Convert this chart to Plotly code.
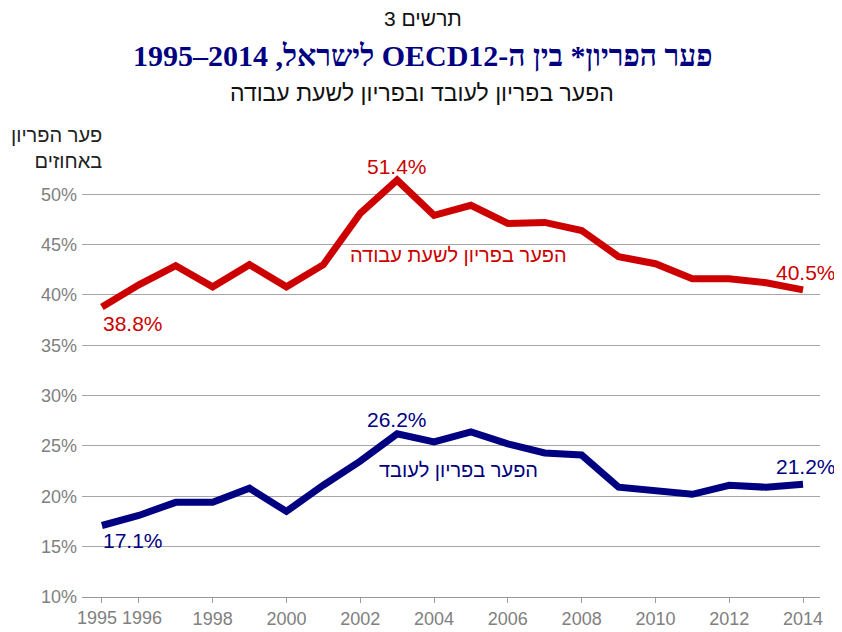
import plotly.graph_objects as go

years = list(range(1995, 2015))
per_hour = [38.8, 41.0, 42.9, 40.8, 43.0, 40.8, 43.0, 48.1, 51.4, 47.9,
            48.9, 47.1, 47.2, 46.4, 43.8, 43.1, 41.6, 41.6, 41.2, 40.5]
per_worker = [17.1, 18.1, 19.4, 19.4, 20.8, 18.5, 21.1, 23.5, 26.2, 25.4,
              26.4, 25.2, 24.3, 24.1, 20.9, 20.5, 20.2, 21.1, 20.9, 21.2]
tick_years = [1995, 1996, 1998, 2000, 2002, 2004, 2006, 2008, 2010, 2012, 2014]
tick_labels = [str(y) for y in tick_years]
y_ticks = [10, 15, 20, 25, 30, 35, 40, 45, 50]
y_tick_labels = [f"{v}%" for v in y_ticks]

RED = "#CC0000"
BLUE = "#000080"
GRAY_TXT = "#808080"
RLE, LRE, PDF = "\u202b", "\u202a", "\u202c"

def rtl(s):
    return RLE + s + PDF

# the two crowded first labels are drawn as annotations, nudged apart as in the original
shown_ticks = [""] * 2 + tick_labels[2:]

fig = go.Figure()
fig.add_trace(go.Scatter(x=years, y=per_hour, mode="lines",
                         line=dict(color=RED, width=7), hoverinfo="skip"))
fig.add_trace(go.Scatter(x=years, y=per_worker, mode="lines",
                         line=dict(color=BLUE, width=7), hoverinfo="skip"))

# page has an 8px body margin; figure is 834x624 so it fits the 842x632 window
OFF = 8
FW, FH = 834, 624
# plot area on screen: x 82..820 px, y 164..597 px
L, R, T, B = 82 - OFF, FW - (820 - OFF), 164 - OFF, FH - (597 - OFF)
H = FH - T - B
W = FW - L - R
def py(pix):
    return (FH - B - (pix - OFF)) / H
def px(pix):
    return ((pix - OFF) - L) / W

SANS = "Liberation Sans, Arial"
SERIF = "Liberation Serif, Times New Roman"

anns = []
def val_label(x, y, text, color, xanchor, yanchor, xshift=0, yshift=0):
    anns.append(dict(x=x, y=y, xref="x", yref="y", text=text, showarrow=False,
                     xanchor=xanchor, yanchor=yanchor, xshift=xshift, yshift=yshift,
                     font=dict(family=SANS, size=21, color=color)))

val_label(years[0], per_hour[0], f"{per_hour[0]:.1f}%", RED, "left", "top", -1, -3)
val_label(years[8], per_hour[8], f"{per_hour[8]:.1f}%", RED, "center", "bottom", 0, 0)
val_label(years[-1], per_hour[-1], f"{per_hour[-1]:.1f}%", RED, "center", "bottom", 3, 4)
val_label(years[0], per_worker[0], f"{per_worker[0]:.1f}%", BLUE, "left", "top", -1, -1)
val_label(years[8], per_worker[8], f"{per_worker[8]:.1f}%", BLUE, "center", "bottom", 0, 1)
val_label(years[-1], per_worker[-1], f"{per_worker[-1]:.1f}%", BLUE, "center", "bottom", 3, 4)

# first two x tick labels
for yr, lab, xs in [(tick_years[0], tick_labels[0], -5), (tick_years[1], tick_labels[1], 3)]:
    anns.append(dict(x=yr, y=py(618), xref="x", yref="paper", text=lab, showarrow=False,
                     xanchor="center", yanchor="middle", xshift=xs,
                     font=dict(family=SANS, size=18, color=GRAY_TXT)))

def paper_text(xpix, ypix, text, size, color, family=SANS, xanchor="center", align="center"):
    anns.append(dict(x=px(xpix), y=py(ypix), xref="paper", yref="paper",
                     xanchor=xanchor, yanchor="middle", align=align,
                     text=text, showarrow=False,
                     font=dict(family=family, size=size, color=color)))

paper_text(458, 255, rtl("הפער בפריון לשעת עבודה"), 20, RED)
paper_text(458, 470, rtl("הפער בפריון לעובד"), 20, BLUE)

# axis title
paper_text(104, 148, rtl("פער הפריון") + "<br>" + rtl("באחוזים"), 20, "#222222",
           xanchor="right", align="right")

# titles
paper_text(423, 19, "תרשים 3", 21, "#111111")
paper_text(423, 55, "<b>" + rtl("פער הפריון* בין ה-OECD12 לישראל, " + LRE + "1995–2014" + PDF) + "</b>",
           30, BLUE, family=SERIF)
paper_text(422, 93, rtl("הפער בפריון לעובד ובפריון לשעת עבודה"), 23, "#111111")

fig.update_layout(
    width=FW, height=FH,
    margin=dict(l=L, r=R, t=T, b=B),
    paper_bgcolor="white", plot_bgcolor="white",
    showlegend=False,
    annotations=anns,
    xaxis=dict(range=[1994.46, 2014.46], tickvals=tick_years, ticktext=shown_ticks,
               tickangle=0, automargin=False,
               showgrid=False, zeroline=False, showline=True, linecolor="#9a9a9a",
               linewidth=1, ticks="outside", ticklen=5, tickcolor="#9a9a9a",
               tickfont=dict(family=SANS, size=18, color=GRAY_TXT)),
    yaxis=dict(range=[10, 53], tickvals=y_ticks, ticktext=y_tick_labels,
               automargin=False,
               showgrid=True, gridcolor="#a6a6a6", gridwidth=1, zeroline=False,
               showline=False, ticks="", ticklabelstandoff=4,
               tickfont=dict(family=SANS, size=18, color=GRAY_TXT)),
)

fig.write_html("out.html")
